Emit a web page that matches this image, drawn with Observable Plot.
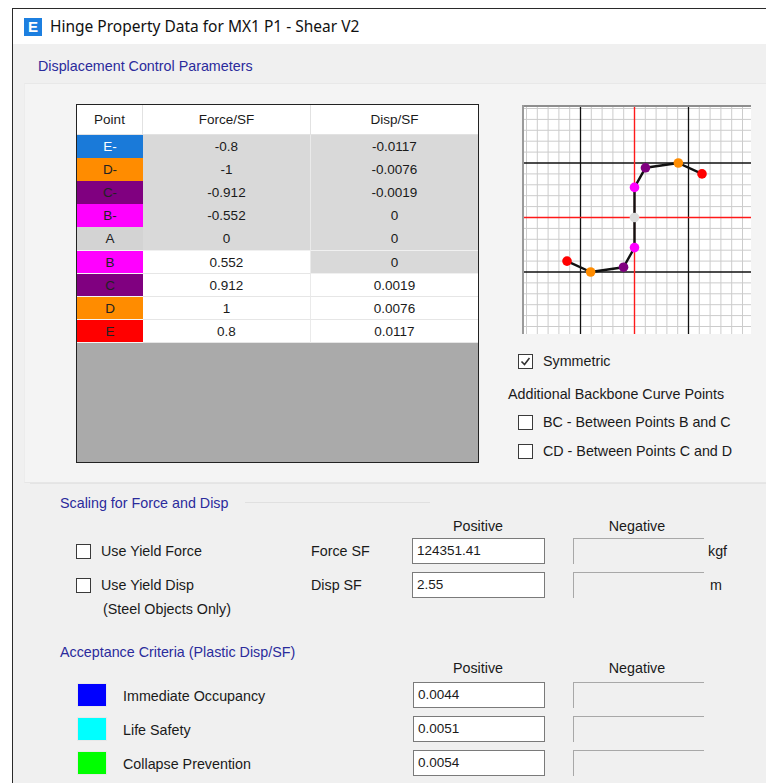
<!DOCTYPE html>
<html>
<head>
<meta charset="utf-8">
<script src="https://cdn.jsdelivr.net/npm/d3@7"></script>
<script src="https://cdn.jsdelivr.net/npm/@observablehq/plot@0.6"></script>
<style>
  html, body { margin:0; padding:0; background:#ffffff; }
  body { width:766px; height:783px; position:relative; overflow:hidden; font-family:"Liberation Sans", Arial, sans-serif; font-size:14.3px; color:#1a1a1a; }
  .abs { position:absolute; white-space:nowrap; }
  .lbl { position:absolute; white-space:nowrap; line-height:16px; }
  .cb { position:absolute; width:13px; height:13px; border:1px solid #3a3a3a; background:#fff; }
  .inp { position:absolute; background:#fff; border:1px solid #7a7a7a; box-sizing:border-box; font-size:13.5px; line-height:24px; padding-left:4px; }
  .dis { position:absolute; background:#f0f0f0; border-top:1px solid #a8a8a8; border-left:1px solid #a8a8a8; box-sizing:border-box; }
  .cell { position:absolute; box-sizing:border-box; text-align:center; font-size:13.5px; }
</style>
</head>
<body>
<div id="root"></div>
<script>
// ---------- data ----------
const pointNames = ["E-", "D-", "C-", "B-", "A", "B", "C", "D", "E"];
const forceSF    = [-0.8, -1, -0.912, -0.552, 0, 0.552, 0.912, 1, 0.8];
const dispSF     = [-0.0117, -0.0076, -0.0019, 0, 0, 0, 0.0019, 0.0076, 0.0117];
const tableColors = ["#1a7ad9", "#ff8c00", "#800080", "#ff00ff", "#d3d3d3", "#ff00ff", "#800080", "#ff8c00", "#ff0000"];
const plotColors  = ["#ff0000", "#ff8c00", "#800080", "#ff00ff", "#dcdcdc", "#ff00ff", "#800080", "#ff8c00", "#ff0000"];
const forceLabels = ["-0.8", "-1", "-0.912", "-0.552", "0", "0.552", "0.912", "1", "0.8"];
const dispLabels  = ["-0.0117", "-0.0076", "-0.0019", "0", "0", "0", "0.0019", "0.0076", "0.0117"];
const forceEditable = [false, false, false, false, false, true, true, true, true];
const dispEditable  = [false, false, false, false, false, false, true, true, true];
const xMajor = [-0.00936, 0.00936];
const xMinorStep = 0.001872;
const yMajor = [-1, 1];
const yMinorStep = 0.2;
const forceSFValue = "124351.41";
const dispSFValue = "2.55";
const criteriaNames = ["Immediate Occupancy", "Life Safety", "Collapse Prevention"];
const criteriaColors = ["#0000ff", "#00ffff", "#00ff00"];
const criteriaValues = ["0.0044", "0.0051", "0.0054"];

// ---------- helpers ----------
const root = document.getElementById("root");
function el(cls, style, text, parent) {
  const d = document.createElement("div");
  if (cls) d.className = cls;
  Object.assign(d.style, style);
  if (text != null) d.textContent = text;
  (parent || root).appendChild(d);
  return d;
}
function label(x, yc, text, extra) {
  return el("lbl", Object.assign({left: x + "px", top: (yc - 8) + "px"}, extra || {}), text);
}
function clabel(xc, yc, text, extra) {
  return el("lbl", Object.assign({left: (xc - 60) + "px", width: "120px", textAlign: "center", top: (yc - 8) + "px"}, extra || {}), text);
}
function checkbox(x, y, checked) {
  const c = el("cb", {left: x + "px", top: y + "px"});
  if (checked) {
    c.innerHTML = '<svg width="13" height="13" style="position:absolute;left:0;top:0"><polyline points="2.5,6.5 5.5,9.5 10.5,3" fill="none" stroke="#333" stroke-width="1.6"/></svg>';
  }
  return c;
}

// ---------- window frame ----------
el("abs", {left: "12px", top: "8px", width: "760px", height: "780px", background: "#f0f0f0", borderLeft: "1px solid #2a2a2a", borderTop: "1px solid #2a2a2a"});
el("abs", {left: "13px", top: "9px", width: "760px", height: "35px", background: "#ffffff"});
// title icon
el("abs", {left: "24px", top: "18px", width: "18px", height: "18px", background: "#1c7fe0", color: "#fff", font: "bold 15px 'Liberation Sans', Arial", textAlign: "center", lineHeight: "18px"}, "E");
el("abs", {left: "50px", top: "16px", font: "15.5px 'Noto Sans', 'Open Sans', sans-serif", color: "#111", lineHeight: "20px"}, "Hinge Property Data for MX1 P1 - Shear V2");
// upper group area
el("abs", {left: "24px", top: "83px", width: "760px", height: "398px", background: "#f4f4f4", borderTop: "1px solid #e8e8e8", borderLeft: "1px solid #ececec", borderBottom: "1px solid #e6e6e6"});
label(38, 66, "Displacement Control Parameters", {color: "#2b2b9c"});

// ---------- table ----------
const tbl = el("abs", {left: "76px", top: "104px", width: "401px", height: "357px", background: "#aaaaaa", border: "1px solid #222"});
const colX = [0, 66, 234];
const colW = [66, 168, 167];
const headers = ["Point", "Force/SF", "Disp/SF"];
const headH = 30, rowH = 23.1;
headers.forEach((h, j) => {
  el("cell", {left: colX[j] + "px", top: "0px", width: colW[j] + "px", height: headH + "px", lineHeight: headH + "px", background: "#fff", borderRight: j < 2 ? "1px solid #e2e2e2" : "none", borderBottom: "1px solid #e2e2e2"}, h, tbl);
});
pointNames.forEach((p, i) => {
  const top = headH + i * rowH;
  const common = {top: top + "px", height: (rowH + 0.4) + "px", lineHeight: rowH + "px", borderBottom: "1px solid #ececec"};
  el("cell", Object.assign({}, common, {left: "0px", width: colW[0] + "px", background: tableColors[i], color: i === 0 ? "#fff" : "#222", borderBottom: "1px solid #f4f4f4"}), p, tbl);
  el("cell", Object.assign({}, common, {left: colX[1] + "px", width: colW[1] + "px", background: forceEditable[i] ? "#fff" : "#d9d9d9", borderRight: "1px solid #eaeaea", borderBottom: forceEditable[i] ? "1px solid #e6e6e6" : "1px solid #f0f0f0"}), forceLabels[i], tbl);
  el("cell", Object.assign({}, common, {left: colX[2] + "px", width: colW[2] + "px", background: dispEditable[i] ? "#fff" : "#d9d9d9", borderBottom: dispEditable[i] ? "1px solid #e6e6e6" : "1px solid #f0f0f0"}), dispLabels[i], tbl);
});

// ---------- backbone plot ----------
const pts = pointNames.map((p, i) => ({name: p, disp: dispSF[i], force: forceSF[i], color: plotColors[i]}));
const xMinor = d3.range(-10, 11).filter(i => i !== 0 && Math.abs(i) !== 5).map(i => i * xMinorStep);
const yMinor = d3.range(-10, 11).filter(i => i !== 0 && Math.abs(i) !== 5).map(i => i * yMinorStep);
const chart = Plot.plot({
  width: 229,
  height: 229,
  margin: 0,
  style: {background: "#ffffff", overflow: "hidden"},
  x: {domain: [-0.019414, 0.020281], axis: null},
  y: {domain: [-2.147, 2.055], axis: null},
  color: {type: "identity"},
  marks: [
    Plot.ruleX(xMinor, {stroke: "#cccccc", strokeWidth: 1}),
    Plot.ruleY(yMinor, {stroke: "#cccccc", strokeWidth: 1}),
    Plot.ruleX(xMajor, {stroke: "#111", strokeWidth: 1.3}),
    Plot.ruleY(yMajor, {stroke: "#111", strokeWidth: 1.3}),
    Plot.ruleX([0], {stroke: "#ff1a1a", strokeWidth: 1.4}),
    Plot.ruleY([0], {stroke: "#ff1a1a", strokeWidth: 1.4}),
    Plot.line(pts, {x: "disp", y: "force", stroke: "#111", strokeWidth: 2.4}),
    Plot.dot(pts, {x: "disp", y: "force", r: 4.8, fill: "color", stroke: "none"})
  ]
});
const holder = el("abs", {left: "522px", top: "105px", width: "229px", height: "229px"});
holder.appendChild(chart);
el("abs", {left: "522px", top: "105px", width: "229px", height: "2px", background: "#8e8e8e"});
el("abs", {left: "522px", top: "105px", width: "2px", height: "229px", background: "#9a9a9a"});

// ---------- right side options ----------
checkbox(518, 354, true);
label(543, 361, "Symmetric");
label(508, 394, "Additional Backbone Curve Points");
checkbox(518, 415, false);
label(543, 422, "BC - Between Points B and C");
checkbox(518, 444, false);
label(543, 451, "CD - Between Points C and D");

// ---------- scaling group ----------
el("abs", {left: "30px", top: "483px", width: "740px", height: "1px", background: "#e4e4e4"});
label(60, 503, "Scaling for Force and Disp", {color: "#2b2b9c"});
el("abs", {left: "245px", top: "502px", width: "185px", height: "1px", background: "#e0e0e0"});
clabel(478, 526, "Positive");
clabel(637, 526, "Negative");
checkbox(76, 544, false);
label(101, 551, "Use Yield Force");
label(311, 551, "Force SF");
el("inp", {left: "412px", top: "538px", width: "133px", height: "26px"}, forceSFValue);
el("dis", {left: "573px", top: "538px", width: "131px", height: "26px"});
label(708, 551, "kgf");
checkbox(76, 578, false);
label(101, 585, "Use Yield Disp");
label(311, 585, "Disp SF");
el("inp", {left: "412px", top: "572px", width: "133px", height: "26px"}, dispSFValue);
el("dis", {left: "573px", top: "572px", width: "131px", height: "26px"});
label(710, 585, "m");
label(103, 609, "(Steel Objects Only)");

// ---------- acceptance criteria ----------
label(60, 652, "Acceptance Criteria (Plastic Disp/SF)", {color: "#2b2b9c"});
clabel(478, 668, "Positive");
clabel(637, 668, "Negative");
criteriaNames.forEach((n, i) => {
  const y = 682 + i * 34;
  el("abs", {left: "78px", top: (y + 2) + "px", width: "28px", height: "22px", background: criteriaColors[i], boxShadow: "0 0 0 1px #e8e8e8"});
  label(123, y + 14, n);
  el("inp", {left: "413px", top: y + "px", width: "132px", height: "26px"}, criteriaValues[i]);
  el("dis", {left: "573px", top: y + "px", width: "131px", height: "26px"});
});
</script>
</body>
</html>
